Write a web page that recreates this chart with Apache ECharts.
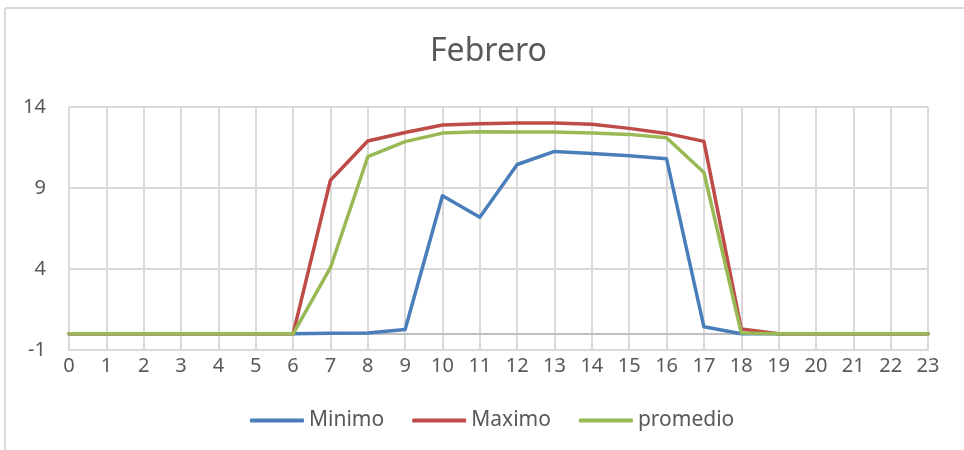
<!DOCTYPE html>
<html>
<head>
<meta charset="utf-8">
<script src="https://cdn.jsdelivr.net/npm/echarts@6/dist/echarts.min.js"></script>
<style>
html,body{margin:0;padding:0;background:#fff;}
#chart{width:964px;height:450px;}
</style>
</head>
<body>
<div id="chart"></div>
<script>
var titleText = 'Febrero';
var hours = ['0','1','2','3','4','5','6','7','8','9','10','11','12','13','14','15','16','17','18','19','20','21','22','23'];
var minimo   = [0,0,0,0,0,0,0,0.04,0.05,0.27,8.52,7.2,10.45,11.26,11.13,10.99,10.8,0.43,0,0,0,0,0,0];
var maximo   = [0,0,0,0,0,0,0,9.48,11.9,12.43,12.89,12.97,13.01,13.01,12.93,12.68,12.37,11.88,0.29,0,0,0,0,0];
var promedio = [0,0,0,0,0,0,0,4.08,10.93,11.86,12.39,12.47,12.45,12.45,12.39,12.31,12.1,9.96,0.05,0,0,0,0,0];
var yTicks = {min: -1, max: 14, interval: 5};

var FONT = 'Noto Sans';
var chart = echarts.init(document.getElementById('chart'));
function line(name, data, color) {
  return {
    name: name, type: 'line', data: data, symbol: 'none', showSymbol: false,
    xAxisIndex: 0,
    lineStyle: {color: color, width: 3.5, cap: 'round', join: 'round'},
    itemStyle: {color: color}, z: 3
  };
}
chart.setOption({
  animation: false,
  backgroundColor: '#fff',
  textStyle: {fontFamily: FONT},
  title: {
    text: titleText, left: 425, top: 31,
    textStyle: {fontFamily: FONT, fontSize: 32, fontWeight: 'normal', color: '#595959'}
  },
  legend: {
    top: 405, left: 245, itemWidth: 54, itemHeight: 4, itemGap: 28,
    icon: 'roundRect',
    textStyle: {fontFamily: FONT, fontSize: 21, color: '#595959'},
    data: ['Minimo', 'Maximo', 'promedio']
  },
  grid: {left: 69, right: 36, top: 107, bottom: 100, containLabel: false},
  xAxis: [{
    type: 'category', data: hours, boundaryGap: false, position: 'bottom',
    axisLine: {show: true, onZero: false, lineStyle: {color: '#d9d9d9', width: 2}},
    axisTick: {show: false},
    axisLabel: {fontFamily: FONT, fontSize: 20, color: '#595959', margin: 6, interval: 0},
    splitLine: {show: true, lineStyle: {color: '#d9d9d9', width: 2}}
  }, {
    type: 'category', data: hours, boundaryGap: false, position: 'bottom',
    axisLine: {show: true, onZero: true, lineStyle: {color: '#bfbfbf', width: 2}},
    axisTick: {show: false}, axisLabel: {show: false}, splitLine: {show: false}
  }],
  yAxis: {
    type: 'value', min: yTicks.min, max: yTicks.max, interval: yTicks.interval,
    axisLine: {show: false}, axisTick: {show: false},
    axisLabel: {fontFamily: FONT, fontSize: 20, color: '#595959', margin: 23},
    splitLine: {show: true, lineStyle: {color: '#d9d9d9', width: 2}}
  },
  series: [
    line('Minimo', minimo, '#4a7ebb'),
    line('Maximo', maximo, '#be4b48'),
    line('promedio', promedio, '#98b954')
  ],
  graphic: [
    {type: 'line', shape: {x1: 5, y1: 8, x2: 964, y2: 8}, style: {stroke: '#d9d9d9', lineWidth: 2}, silent: true},
    {type: 'line', shape: {x1: 5, y1: 8, x2: 5, y2: 450}, style: {stroke: '#d9d9d9', lineWidth: 2}, silent: true}
  ]
});
</script>
</body>
</html>
